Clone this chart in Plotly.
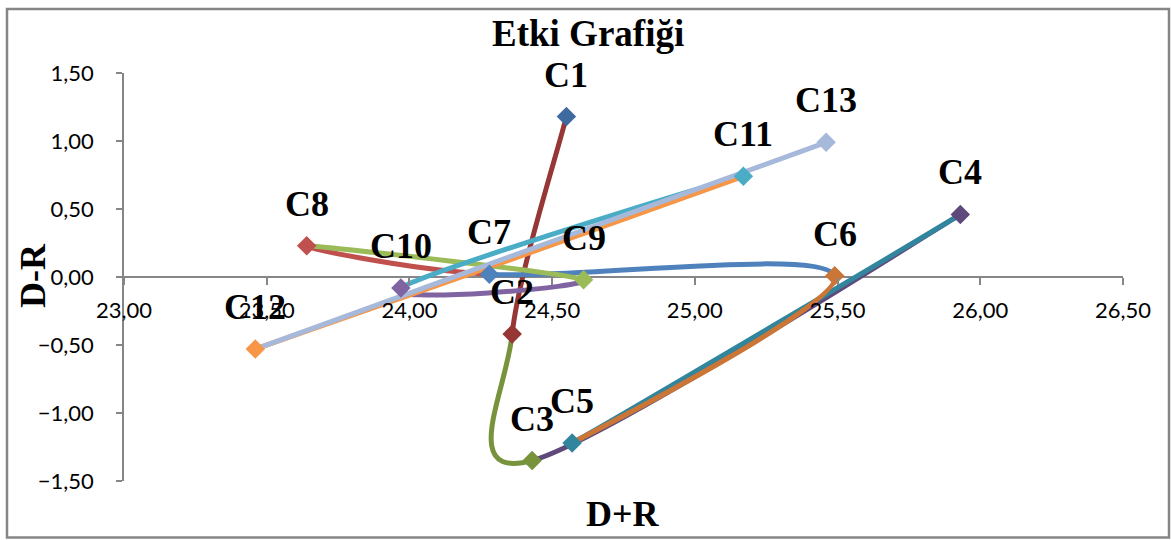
import plotly.graph_objects as go

# ---- data ----
labels = ["C1", "C2", "C3", "C4", "C5", "C6", "C7", "C8", "C9", "C10", "C11", "C12", "C13"]
d_plus_r = [24.55, 24.36, 24.43, 25.93, 24.57, 25.49, 24.28, 23.64, 24.61, 23.97, 25.17, 23.46, 25.46]
d_minus_r = [1.18, -0.42, -1.35, 0.46, -1.22, 0.01, 0.02, 0.23, -0.02, -0.08, 0.74, -0.53, 0.99]
point_colors = ["#3F6A9F", "#963735", "#77933C", "#5F497A", "#31859C", "#CB7636",
                "#4F81BD", "#C0504D", "#9BBB59", "#8064A2", "#4BACC6", "#F79646", "#A7B9DA"]
x_ticks = [23.0, 23.5, 24.0, 24.5, 25.0, 25.5, 26.0, 26.5]
y_ticks = [-1.5, -1.0, -0.5, 0.0, 0.5, 1.0, 1.5]

SERIF = "Liberation Serif, Times New Roman, serif"
SANS = "Lato, Calibri, sans-serif"
GRAY = "#868686"

# plot-area geometry (pixels)
L, R, T, B = 124, 48, 73, 59
W, H = 1171, 540
PW, PH = W - L - R, H - T - B


def px(xp):
    return (xp - L) / PW


def py(yp):
    return (H - B - yp) / PH


fig = go.Figure()

# smoothed connecting line (Excel-style smoothing), one colour per segment
n = len(labels)
shapes = []
for i in range(n - 1):
    x0, y0 = d_plus_r[i], d_minus_r[i]
    x1, y1 = d_plus_r[i + 1], d_minus_r[i + 1]
    xp, yp = (d_plus_r[i - 1], d_minus_r[i - 1]) if i > 0 else (x0, y0)
    xn, yn = (d_plus_r[i + 2], d_minus_r[i + 2]) if i + 2 < n else (x1, y1)
    c1x, c1y = x0 + (x1 - xp) / 6, y0 + (y1 - yp) / 6
    c2x, c2y = x1 - (xn - x0) / 6, y1 - (yn - y0) / 6
    path = f"M {x0},{y0} C {c1x},{c1y} {c2x},{c2y} {x1},{y1}"
    shapes.append(dict(type="path", path=path, xref="x", yref="y", layer="between",
                       line=dict(color=point_colors[i + 1], width=5)))

fig.add_trace(go.Scatter(
    x=d_plus_r, y=d_minus_r, mode="markers",
    marker=dict(symbol="diamond", size=15, color=point_colors,
                line=dict(width=0)),
    hoverinfo="skip", showlegend=False, cliponaxis=False,
))

annotations = []
for lab, xv, yv in zip(labels, d_plus_r, d_minus_r):
    annotations.append(dict(text=f"<b>{lab}</b>", x=xv, y=yv, xref="x", yref="y",
                            showarrow=False, xanchor="center", yanchor="bottom",
                            yshift=20, font=dict(family=SERIF, size=36, color="black")))

# chart border
shapes.append(dict(type="rect", xref="paper", yref="paper",
                   x0=px(7), x1=px(1169), y0=py(537.5), y1=py(9),
                   line=dict(color=GRAY, width=2.5), layer="below"))

annotations += [
    dict(text="<b>Etki Grafiği</b>", xref="paper", yref="paper",
         x=px(588), y=py(34), showarrow=False,
         xanchor="center", yanchor="middle",
         font=dict(family=SERIF, size=37, color="black")),
    dict(text="<b>D+R</b>", xref="paper", yref="paper",
         x=px(623), y=py(514), showarrow=False,
         xanchor="center", yanchor="middle",
         font=dict(family=SERIF, size=36, color="black")),
    dict(text="<b>D-R</b>", xref="paper", yref="paper",
         x=px(33), y=py(276), showarrow=False,
         textangle=-90, xanchor="center", yanchor="middle",
         font=dict(family=SERIF, size=36, color="black")),
]

fig.update_layout(
    width=W, height=H,
    margin=dict(l=L, r=R, t=T, b=B, autoexpand=False),
    paper_bgcolor="white", plot_bgcolor="white",
    separators=",.",
    showlegend=False,
    shapes=shapes,
    annotations=annotations,
    xaxis=dict(range=[23, 26.5], tickvals=x_ticks, tickformat=".2f",
               anchor="free", position=0.5, showline=False, automargin=False,
               ticks="outside", ticklen=7, tickcolor=GRAY, tickwidth=1.5,
               ticklabelstandoff=7,
               showgrid=False, zeroline=False,
               tickfont=dict(family=SANS, size=22, color="black")),
    yaxis=dict(range=[-1.5, 1.5], tickvals=y_ticks, tickformat=".2f",
               showline=True, linecolor=GRAY, linewidth=1.5, automargin=False,
               ticks="outside", ticklen=6, tickcolor=GRAY, tickwidth=1.5,
               ticklabelstandoff=18,
               showgrid=False, zeroline=True, zerolinecolor=GRAY, zerolinewidth=1.5,
               tickfont=dict(family=SANS, size=22, color="black")),
)

fig.write_html("out.html", config={"displayModeBar": False},
               post_script="document.body.style.margin='0px';")
